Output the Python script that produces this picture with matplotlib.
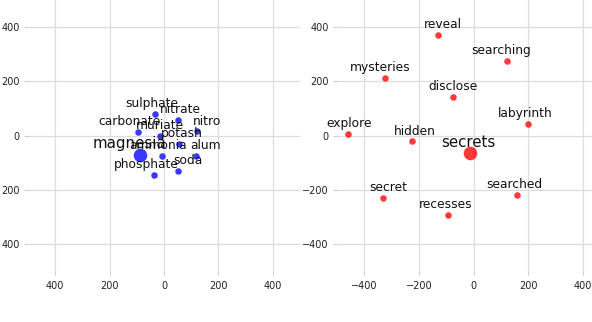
import numpy as np
import matplotlib.pyplot as plt
from matplotlib.ticker import FuncFormatter

# left panel: words near "magnesia"
left_words = ["sulphate", "nitrate", "nitro", "carbonate", "muriate", "potash",
              "magnesia", "ammonia", "alum", "phosphate", "soda"]
left_x = [-34, 50, 121, -97, -16, 55, -87, -7, 118, -36, 52]
left_y = [80, 59, 15, 12, 0, -30, -72, -74, -77, -147, -131]
left_focus = "magnesia"

# right panel: words near "secrets"
right_words = ["reveal", "searching", "mysteries", "disclose", "labyrinth", "explore",
               "hidden", "secrets", "secret", "searched", "recesses"]
right_x = [-130, 121, -323, -74, 201, -460, -227, -12, -333, 161, -94]
right_y = [372, 274, 213, 142, 42, 6, -22, -66, -232, -218, -292]
right_focus = "secrets"

# small horizontal label nudges (points)
left_dx = [-2, 2, 7, -6, 0, 2, -8, -3, 7, -6, 7]
right_dx = [3.5, -4, -4, 0, -2, 1, 2.5, -1.5, 4, -2.5, -1.5]

W, H = 592, 322
fig = plt.figure(figsize=(W / 100, H / 100), dpi=100)
ax_l = fig.add_axes([28 / W, 51 / H, 272 / W, 271 / H])
ax_r = fig.add_axes([337 / W, 51 / H, 273 / W, 271 / H])


def draw(ax, words, xs, ys, dxs, focus, color):
    for w, x, y, dx in zip(words, xs, ys, dxs):
        big = w == focus
        ax.scatter(x, y, s=95 if big else 22, color=color, alpha=0.78,
                   linewidths=0, zorder=3)
        ax.annotate(w, (x, y), xytext=(dx, 8 if big else 7.5), textcoords="offset points",
                    ha="center", va="center", fontsize=10.8 if big else 8.8,
                    color="#111111", zorder=4)
    ax.set_xlim(-500, 500)
    ax.set_ylim(-500, 500)
    ax.set_xticks([-400, -200, 0, 200, 400])
    ax.set_yticks([-400, -200, 0, 200, 400])
    ax.grid(True, color="#dddddd", linewidth=0.9)
    ax.set_axisbelow(True)
    for s in ax.spines.values():
        s.set_visible(False)
    ax.tick_params(length=3, color="#cccccc", labelsize=7, labelcolor="#222222", pad=3)
    ax.tick_params(axis="x", pad=4)


draw(ax_l, left_words, left_x, left_y, left_dx, left_focus, "blue")
draw(ax_r, right_words, right_x, right_y, right_dx, right_focus, "red")

# left panel labels show without the minus sign
abs_fmt = FuncFormatter(lambda v, p: f"{abs(int(v))}")
ax_l.xaxis.set_major_formatter(abs_fmt)
ax_l.yaxis.set_major_formatter(abs_fmt)

fig.savefig("out.png", dpi=100)
